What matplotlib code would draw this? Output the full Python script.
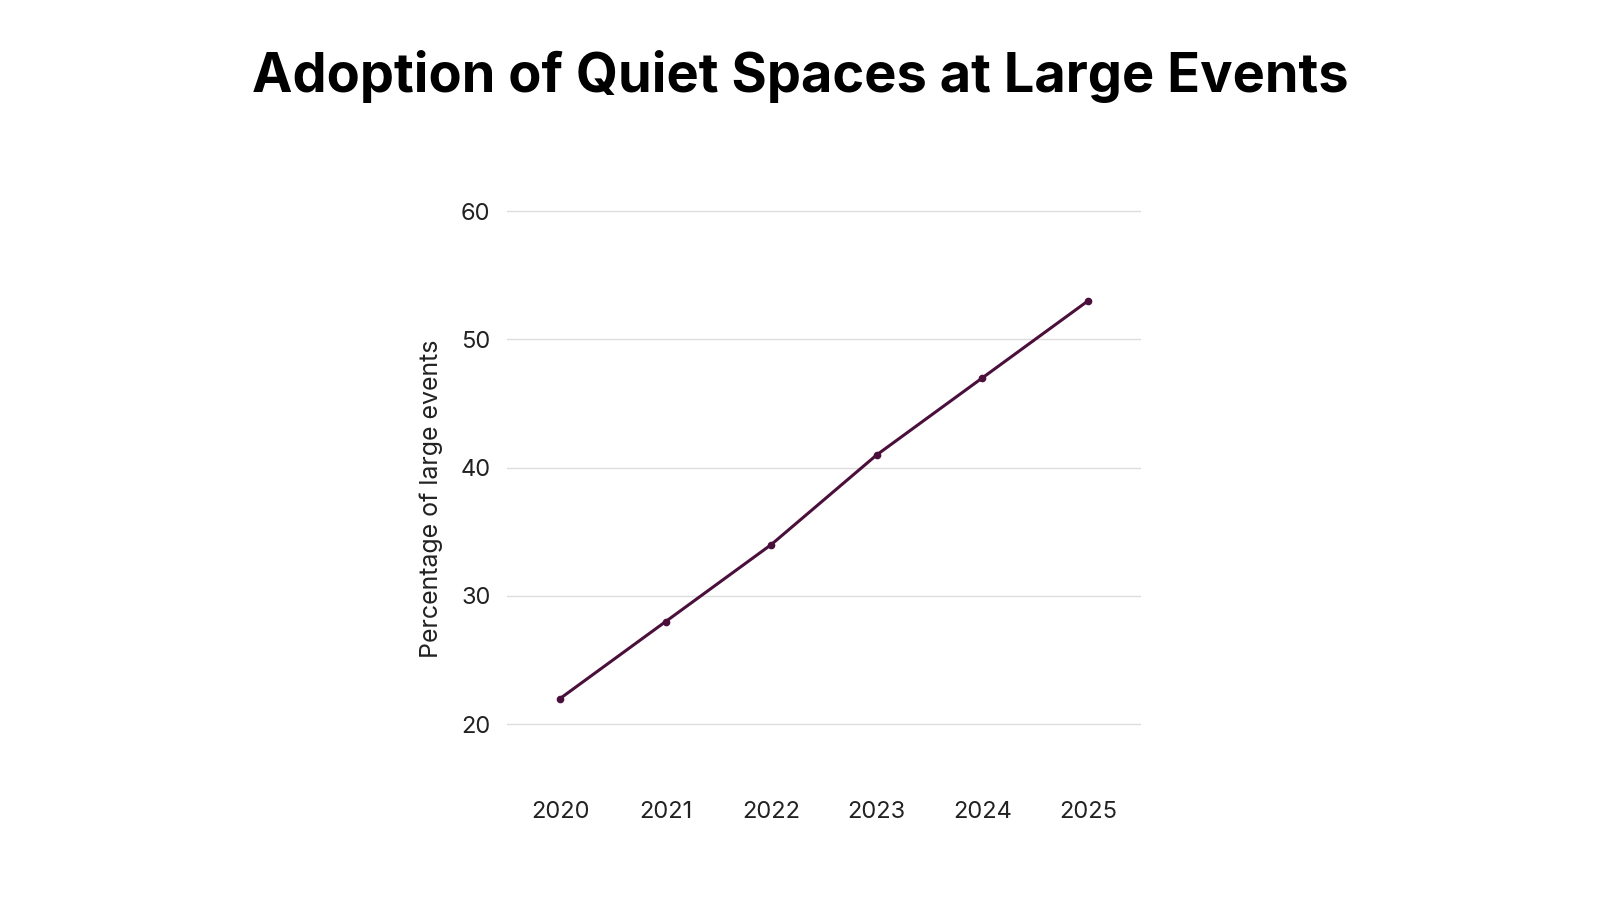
import matplotlib
matplotlib.use("Agg")
import matplotlib.pyplot as plt

years = [2020, 2021, 2022, 2023, 2024, 2025]
share = [22, 28, 34, 41, 47, 53]
y_ticks = [20, 30, 40, 50, 60]

title = "Adoption of Quiet Spaces at Large Events"
y_label = "Percentage of large events"
line_color = "#4b0f3b"

plt.rcParams["font.family"] = ["Inter", "DejaVu Sans"]

fig = plt.figure(figsize=(16, 9), dpi=100)
ax = fig.add_axes([0.317, 0.124, 0.396, 0.670])

ax.plot(years, share, color=line_color, linewidth=2.2, marker="o", markersize=4.5)

ax.set_xlim(2019.5, 2025.5)
ax.set_ylim(15, 62)
ax.set_xticks(years)
ax.set_xticklabels([str(y) for y in years])
ax.set_yticks(y_ticks)
ax.grid(axis="y", color="#dddddd", linewidth=1)
ax.set_axisbelow(True)
for s in ax.spines.values():
    s.set_visible(False)
ax.tick_params(length=0, labelsize=17, colors="#222222")
ax.tick_params(axis="y", pad=12)
ax.tick_params(axis="x", pad=9)
ax.set_ylabel(y_label, fontsize=18, color="#222222")
ax.yaxis.set_label_coords(-0.101, 0.48)

fig.text(0.5, 0.915, title, ha="center", va="center", fontsize=39, fontweight="bold")

fig.savefig("out.png", dpi=100, facecolor="white")
